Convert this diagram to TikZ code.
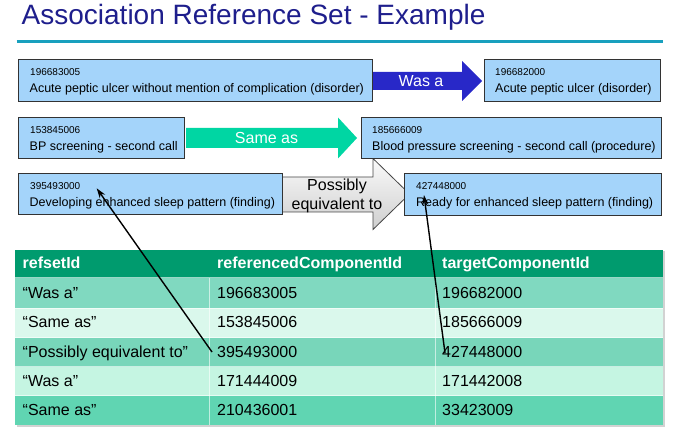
\documentclass[tikz,border=0pt]{standalone}
\usepackage{fontspec}
\setmainfont{Liberation Sans}
\usetikzlibrary{arrows.meta,calc}
\definecolor{titleblue}{HTML}{1E1E8C}
\definecolor{rulecol}{HTML}{18A0BE}
\definecolor{boxfill}{HTML}{A4D4FA}
\definecolor{boxborder}{HTML}{333333}
\definecolor{wasablue}{HTML}{2828C8}
\definecolor{sameasgreen}{HTML}{00D6A3}
\definecolor{hdrgreen}{HTML}{009B6E}
\definecolor{rowA}{HTML}{80D9C0}
\definecolor{rowB}{HTML}{DAF8EC}
\definecolor{rowC}{HTML}{78D6BA}
\definecolor{rowD}{HTML}{C5F5E2}
\definecolor{rowE}{HTML}{60D5B2}
\begin{document}
\begin{tikzpicture}[x=1pt,y=-1pt,
  cbox/.style={draw=boxborder, line width=1.4pt, fill=boxfill, anchor=north west, inner sep=0pt},
  numtxt/.style={anchor=base west, inner sep=0pt, font=\fontsize{10}{12}\selectfont},
  maintxt/.style={anchor=base west, inner sep=0pt, font=\fontsize{12.5}{15}\selectfont},
  arrtxt/.style={anchor=base, inner sep=0pt, font=\fontsize{16}{18}\selectfont},
  hdrtxt/.style={anchor=base west, inner sep=0pt, text=white, font=\fontsize{16}{18}\selectfont\bfseries},
  celltxt/.style={anchor=base west, inner sep=0pt, font=\fontsize{16}{18}\selectfont},
  sepline/.style={draw=white, line width=1pt, opacity=0.6},
  pointer/.style={draw=black, line width=1.4pt, -{Stealth[length=10pt,width=6.5pt]}}
]
\useasboundingbox (0,0) rectangle (679,435);
% title
\node[anchor=base west, inner sep=0pt, text=titleblue, font=\fontsize{28}{32}\selectfont] (title) at (21.5,25) {Association Reference Set - Example};
\draw[rulecol, line width=3pt] (16.5,41.5) -- (663,41.5);

% block arrows (drawn under boxes)
\fill[wasablue] (372,72) -- (462,72) -- (462,61) -- (482,81) -- (462,101) -- (462,90) -- (372,90) -- cycle;
\node[arrtxt, text=white] (wasa) at (421,86.5) {Was a};
\fill[sameasgreen] (186,128) -- (338,128) -- (338,117.5) -- (357,138) -- (338,158.5) -- (338,148) -- (186,148) -- cycle;
\node[arrtxt, text=white] (sameas) at (266.5,144) {Same as};
\draw[top color=gray!4, bottom color=gray!38, draw=gray!55!black, line width=0.8pt]
  (282,177) -- (373,177) -- (373,158.5) -- (409.5,194) -- (373,229.5) -- (373,212) -- (282,212) -- cycle;
\node[arrtxt] (poss1) at (337,190.7) {Possibly};
\node[arrtxt] (poss2) at (337,209.3) {equivalent to};

% concept boxes
\node[cbox, minimum width=354pt, minimum height=42pt] (b1) at (18,59) {};
\node[numtxt] (b1n) at ($(b1.north west)+(12,16.7)$) {196683005};
\node[maintxt] (b1t) at ($(b1.north west)+(11.5,34)$) {Acute peptic ulcer without mention of complication (disorder)};

\node[cbox, minimum width=176pt, minimum height=42pt] (b2) at (484,59) {};
\node[numtxt] (b2n) at ($(b2.north west)+(11,16.7)$) {196682000};
\node[maintxt] (b2t) at ($(b2.north west)+(11,34)$) {Acute peptic ulcer (disorder)};

\node[cbox, minimum width=166pt, minimum height=41pt] (b3) at (18,117) {};
\node[numtxt] (b3n) at ($(b3.north west)+(12,16.7)$) {153845006};
\node[maintxt] (b3t) at ($(b3.north west)+(11.5,34)$) {BP screening - second call};

\node[cbox, minimum width=300pt, minimum height=41pt] (b4) at (361,117) {};
\node[numtxt] (b4n) at ($(b4.north west)+(11,16.7)$) {185666009};
\node[maintxt] (b4t) at ($(b4.north west)+(11,34)$) {Blood pressure screening - second call (procedure)};

\node[cbox, minimum width=264pt, minimum height=41pt] (b5) at (18,173) {};
\node[numtxt] (b5n) at ($(b5.north west)+(12,16.7)$) {395493000};
\node[maintxt] (b5t) at ($(b5.north west)+(11.5,34)$) {Developing enhanced sleep pattern (finding)};

\node[cbox, minimum width=257pt, minimum height=42pt] (b6) at (404,173) {};
\node[numtxt] (b6n) at ($(b6.north west)+(12,16.7)$) {427448000};
\node[maintxt] (b6t) at ($(b6.north west)+(12,34)$) {Ready for enhanced sleep pattern (finding)};

% table
\fill[gray!35] (16.5,251.5) rectangle (664.5,426.5);
\fill[hdrgreen] (15,250) rectangle (663,278);
\fill[rowA] (15,278) rectangle (663,308);
\fill[rowB] (15,308) rectangle (663,337.5);
\fill[rowC] (15,337.5) rectangle (663,366.5);
\fill[rowD] (15,366.5) rectangle (663,395.5);
\fill[rowE] (15,395.5) rectangle (663,425);
\draw[sepline] (15,278) -- (663,278);
\draw[sepline] (15,308) -- (663,308);
\draw[sepline] (15,337.5) -- (663,337.5);
\draw[sepline] (15,366.5) -- (663,366.5);
\draw[sepline] (15,395.5) -- (663,395.5);
\draw[sepline] (209.5,278) -- (209.5,425);
\draw[sepline] (435.5,278) -- (435.5,425);

\node[hdrtxt] (h1) at (22.5,268.5) {refsetId};
\node[hdrtxt] (h2) at (217,268.5) {referencedComponentId};
\node[hdrtxt] (h3) at (442,268.5) {targetComponentId};

\node[celltxt] (r1c1) at (22.5,298.5) {“Was a”};
\node[celltxt] (r1c2) at (217,298.5) {196683005};
\node[celltxt] (r1c3) at (442,298.5) {196682000};
\node[celltxt] (r2c1) at (22.5,327.8) {“Same as”};
\node[celltxt] (r2c2) at (217,327.8) {153845006};
\node[celltxt] (r2c3) at (442,327.8) {185666009};
\node[celltxt] (r3c1) at (22.5,357.2) {“Possibly equivalent to”};
\node[celltxt] (r3c2) at (217,357.2) {395493000};
\node[celltxt] (r3c3) at (442,357.2) {427448000};
\node[celltxt] (r4c1) at (22.5,386.2) {“Was a”};
\node[celltxt] (r4c2) at (217,386.2) {171444009};
\node[celltxt] (r4c3) at (442,386.2) {171442008};
\node[celltxt] (r5c1) at (22.5,415.5) {“Same as”};
\node[celltxt] (r5c2) at (217,415.5) {210436001};
\node[celltxt] (r5c3) at (442,415.5) {33423009};

% pointer lines
\coordinate (s1) at (212,352);
\coordinate (t1) at (96.7,188.3);
\coordinate (s2) at (445,353);
\coordinate (t2) at (424,195);
\draw[pointer] (s1) -- (t1);
\draw[pointer] (s2) -- (t2);
\end{tikzpicture}
\end{document}
